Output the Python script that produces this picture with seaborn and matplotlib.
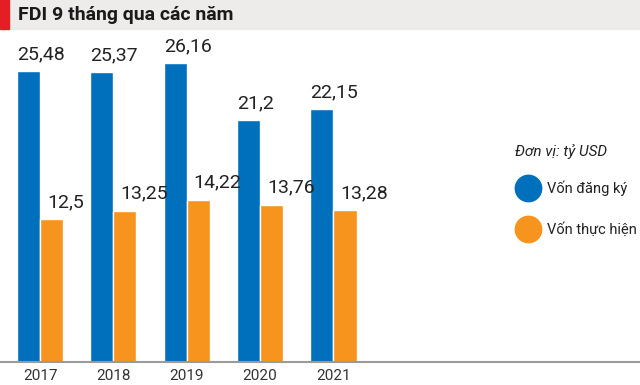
import matplotlib
matplotlib.use("Agg")
import matplotlib.pyplot as plt
from matplotlib.lines import Line2D
from matplotlib.patches import Rectangle
import pandas as pd
import seaborn as sns

years = ["2017", "2018", "2019", "2020", "2021"]
von_dang_ky = [25.48, 25.37, 26.16, 21.2, 22.15]
von_thuc_hien = [12.5, 13.25, 14.22, 13.76, 13.28]
series = ["Vốn đăng ký", "Vốn thực hiện"]
colors = ["#0070bc", "#f7941d"]

sns.set_theme(style="white")
plt.rcParams["font.family"] = ["Roboto", "DejaVu Sans"]

df = pd.DataFrame({
    "year": years * 2,
    "value": von_dang_ky + von_thuc_hien,
    "series": [series[0]] * 5 + [series[1]] * 5,
})

W, H = 640, 385
fig = plt.figure(figsize=(W / 100, H / 100), dpi=100)
ax = fig.add_axes([0, (H - 362) / H, 1, (362 - 30) / H])

sns.barplot(data=df, x="year", y="value", hue="series", palette=colors,
            width=0.63, saturation=1, legend=False, ax=ax)

ax.set_xlim(-0.546, 8.18)
ax.set_ylim(0, 29.07)
ax.set_xlabel("")
ax.set_ylabel("")
ax.set_yticks([])
for s in ["top", "left", "right"]:
    ax.spines[s].set_visible(False)
ax.spines["bottom"].set_color("#9a9a9a")
ax.spines["bottom"].set_linewidth(1.5)
ax.tick_params(axis="x", length=0, pad=5, labelsize=11, labelcolor="#333333")

# value labels
for i, cont in enumerate(ax.containers):
    for bar in cont:
        h = bar.get_height()
        x = bar.get_x() + (0 if i == 0 else 0.3 * bar.get_width())
        ax.text(x, h + 0.7, f"{h:g}".replace(".", ","), ha="left", va="bottom",
                fontsize=14, color="#222222")

# legend (unit note as separate text)
handles = [Line2D([], [], marker="o", ls="", color=c, markersize=19) for c in colors]
leg = ax.legend(handles, series, loc="upper left", bbox_to_anchor=(515 / W, (362 - 181) / 332),
                frameon=False, fontsize=10.5, labelspacing=1.75, handletextpad=0.35,
                handlelength=1.85, borderpad=0, borderaxespad=0)
for t in leg.get_texts():
    t.set_color("#222222")
fig.text(515 / W, 1 - 152 / H, "Đơn vị: tỷ USD", ha="left", va="center",
         fontsize=11, style="italic", color="#222222")

# title bar
fig.patches.append(Rectangle((0, 1 - 29 / H), 1, 29 / H, transform=fig.transFigure,
                             color="#eeeceb", zorder=0))
fig.patches.append(Rectangle((0, 1 - 29 / H), 9 / W, 29 / H, transform=fig.transFigure,
                             color="#e31e24", zorder=1))
fig.text(18 / W, 1 - 15 / H, "FDI 9 tháng qua các năm", ha="left", va="center",
         fontsize=14, fontweight="bold", color="#1a1a1a")

fig.savefig("out.png", dpi=100)
